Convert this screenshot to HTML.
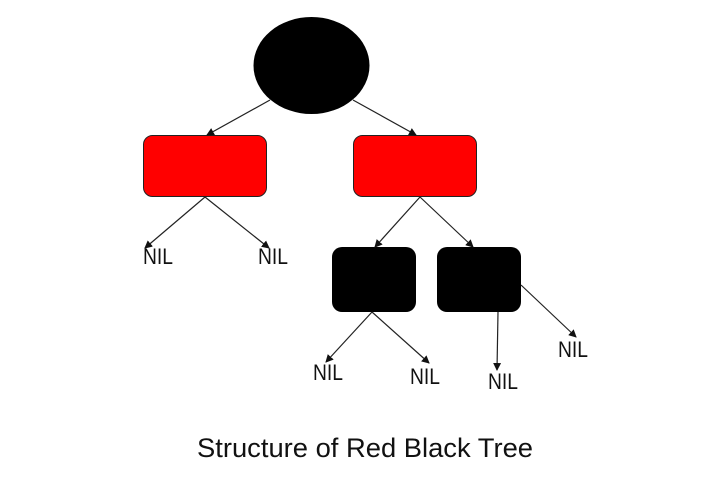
<!DOCTYPE html>
<html><head><meta charset="utf-8"><style>
html,body{margin:0;padding:0;background:#fff;}
svg{display:block;}
text{font-family:"Liberation Sans",sans-serif;fill:#111;}
</style></head><body>
<svg width="715" height="493" viewBox="0 0 715 493" xmlns="http://www.w3.org/2000/svg">
<defs>
<marker id="a" markerWidth="8" markerHeight="8" refX="7" refY="4" orient="auto" markerUnits="userSpaceOnUse">
<path d="M0,0 L8,4 L0,8 z" fill="#111"/>
</marker>
</defs>
<ellipse cx="311.5" cy="65.5" rx="58" ry="48.5" fill="#000"/>
<rect x="143.5" y="135.5" width="123" height="61" rx="9" fill="#f00" stroke="#222" stroke-width="1"/>
<rect x="353.5" y="135.5" width="123" height="61" rx="9" fill="#f00" stroke="#222" stroke-width="1"/>
<rect x="332" y="247" width="84" height="65" rx="10" fill="#000"/>
<rect x="437" y="247" width="84" height="65" rx="10" fill="#000"/>
<g stroke="#222" stroke-width="1.2" fill="none" marker-end="url(#a)">
<line x1="270" y1="100" x2="207" y2="135"/>
<line x1="353" y1="100" x2="416" y2="135"/>
<line x1="205" y1="197" x2="145" y2="248"/>
<line x1="205" y1="197" x2="269" y2="248"/>
<line x1="420" y1="197" x2="375" y2="247"/>
<line x1="420" y1="197" x2="473" y2="247"/>
<line x1="372" y1="312" x2="326" y2="362"/>
<line x1="372" y1="312" x2="429" y2="363"/>
<line x1="498" y1="312" x2="497" y2="370"/>
<line x1="521" y1="285" x2="576" y2="337"/>
</g>
<g font-size="22">
<text x="143" y="264" textLength="30" lengthAdjust="spacingAndGlyphs">NIL</text>
<text x="258" y="264" textLength="30" lengthAdjust="spacingAndGlyphs">NIL</text>
<text x="313" y="380" textLength="30" lengthAdjust="spacingAndGlyphs">NIL</text>
<text x="410" y="384" textLength="30" lengthAdjust="spacingAndGlyphs">NIL</text>
<text x="488" y="389" textLength="30" lengthAdjust="spacingAndGlyphs">NIL</text>
<text x="558" y="357" textLength="30" lengthAdjust="spacingAndGlyphs">NIL</text>
</g>
<text x="197" y="457" font-size="27" textLength="336" lengthAdjust="spacingAndGlyphs">Structure of Red Black Tree</text>
</svg>
</body></html>
